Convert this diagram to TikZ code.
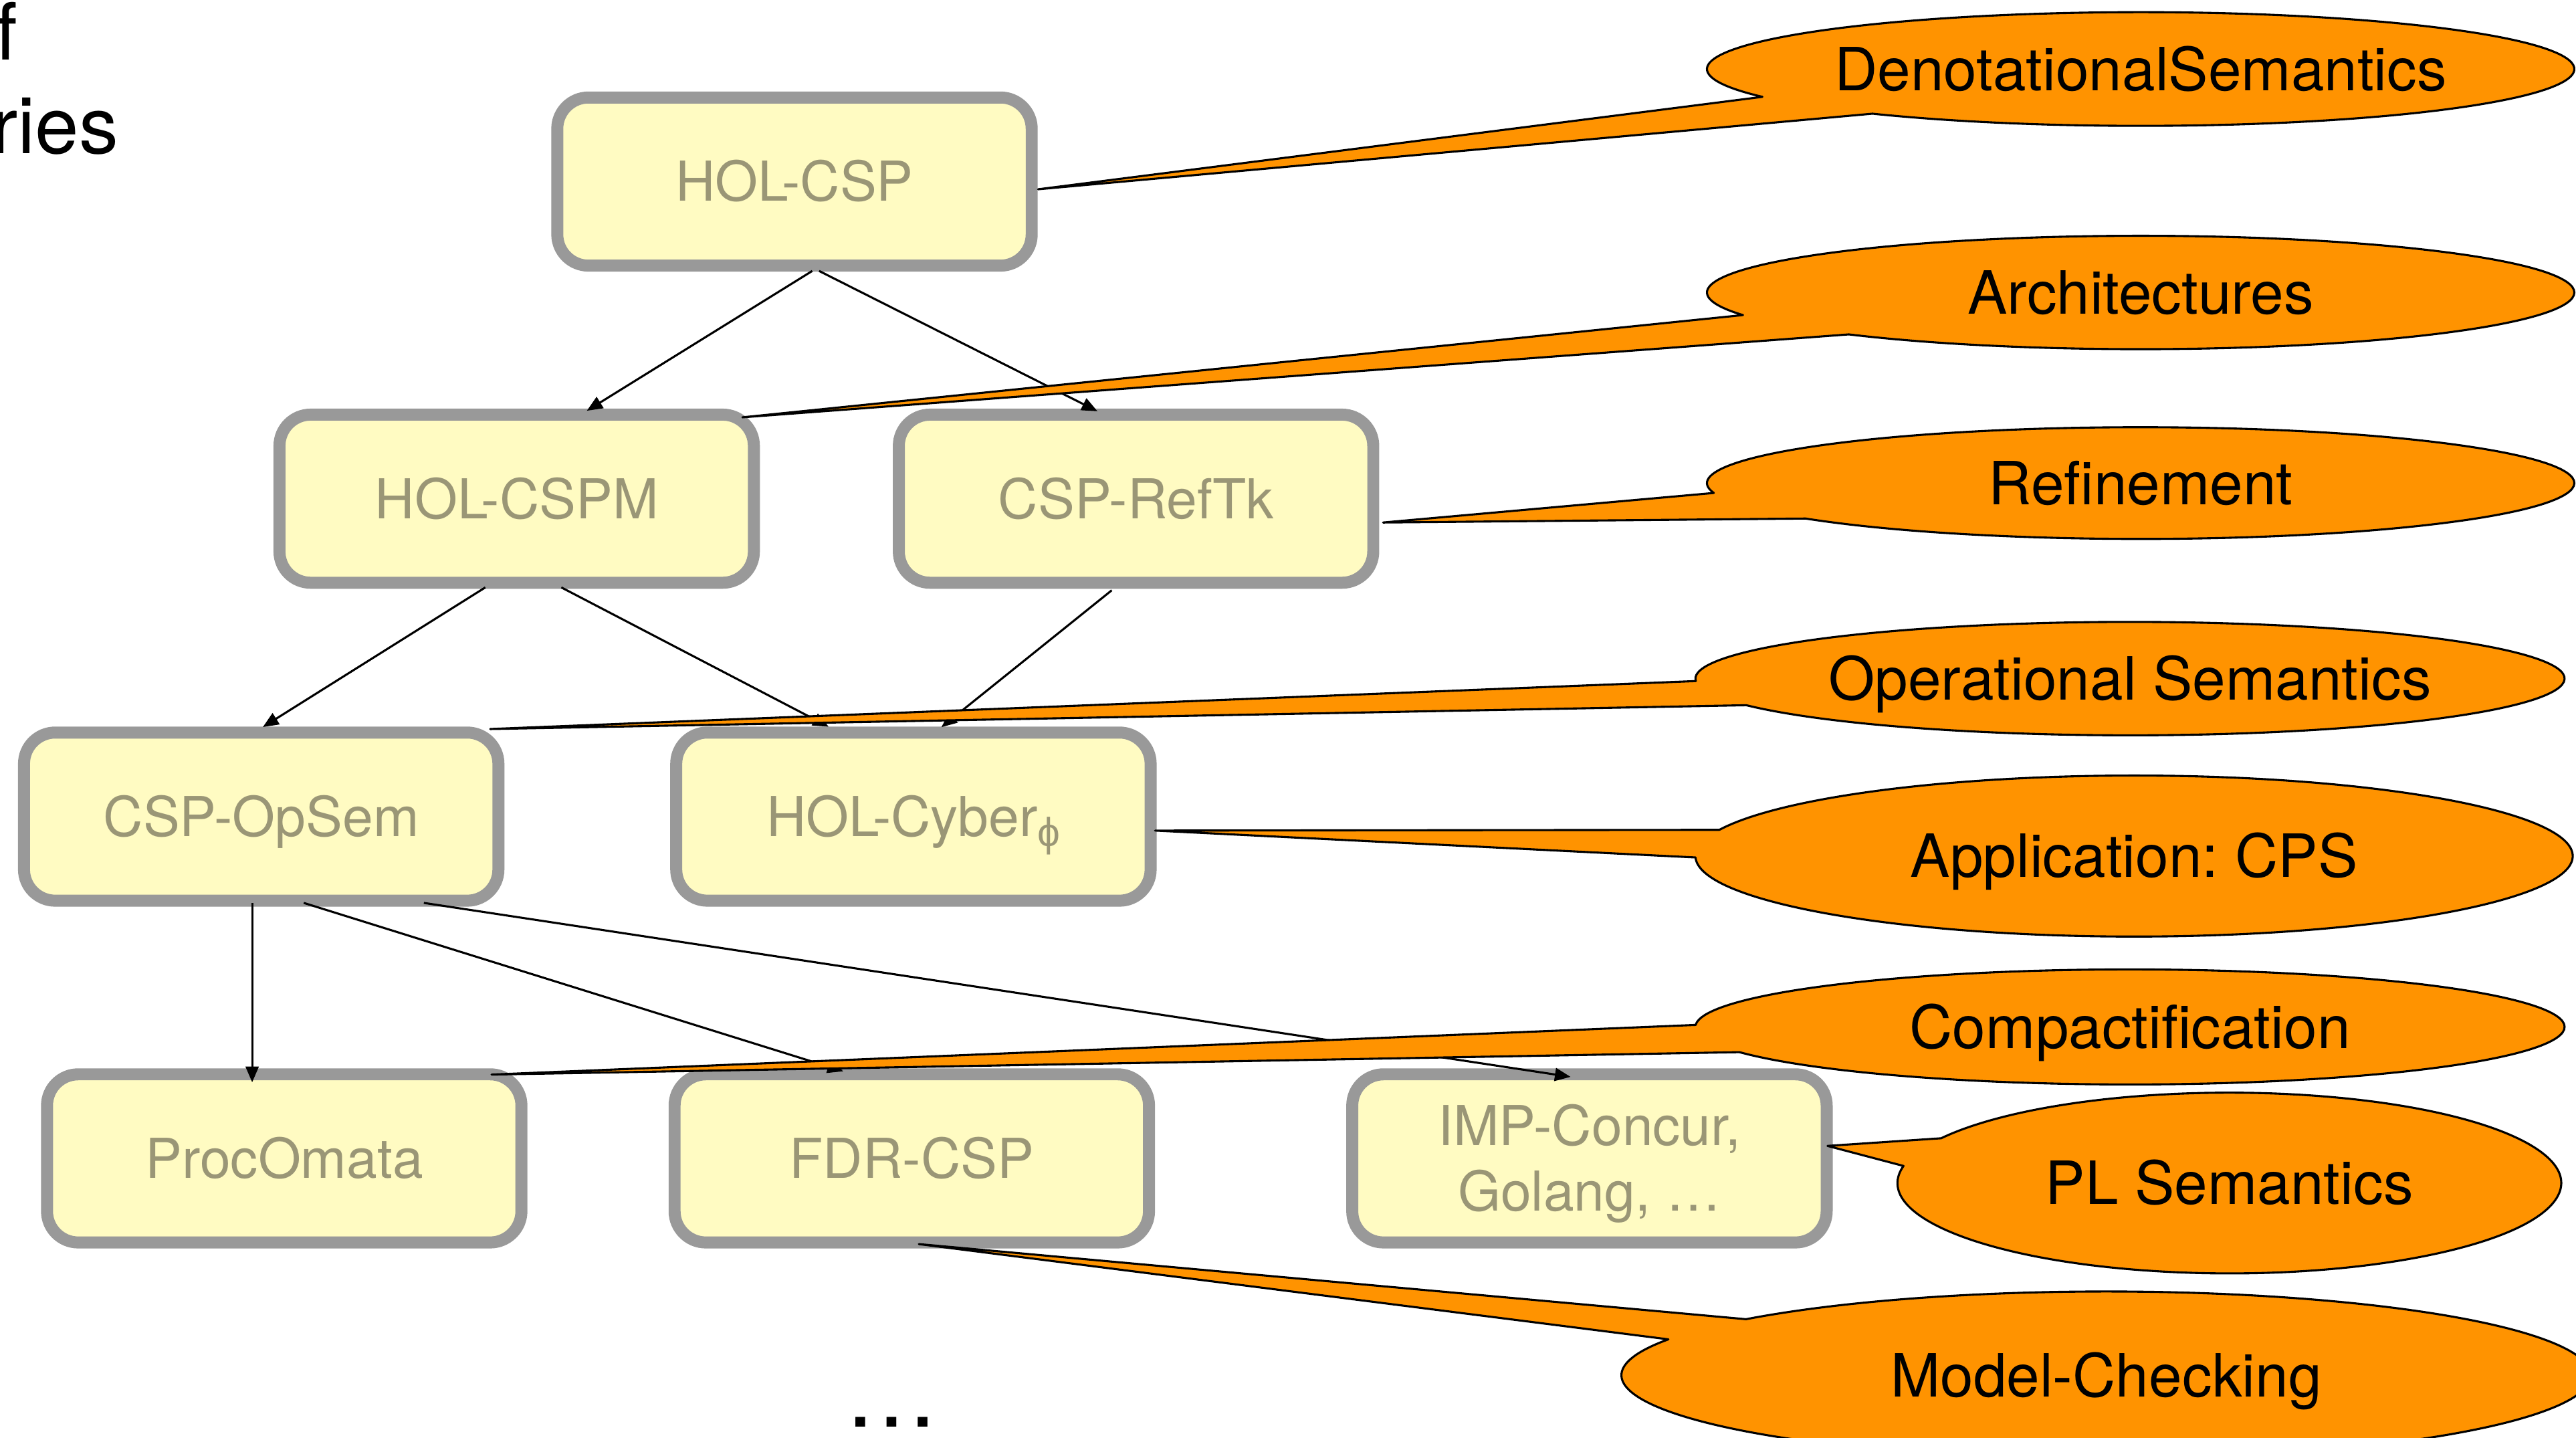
\documentclass[tikz,border=0pt]{standalone}
\usepackage{fontspec}
\setmainfont{TeX Gyre Heros}
\newfontfamily\phifont{Liberation Sans}
\usetikzlibrary{calc,arrows.meta}
\definecolor{boxfill}{RGB}{255,251,194}
\definecolor{boxline}{RGB}{153,153,153}
\definecolor{boxtext}{RGB}{154,150,118}
\definecolor{orng}{RGB}{255,147,0}
\frenchspacing
% #1 name, #2 cx, #3 cy, #4 rx, #5 ry, #6 upper base angle, #7 lower base angle, #8 tip, #9 text
\newcommand{\calloutshape}[9]{%
  \draw[callout] ($(#2,#3)+(#6:#4 and #5)$) -- (#8) -- ($(#2,#3)+(#7:#4 and #5)$)
    arc[start angle=#7, end angle=#6-360, x radius=#4, y radius=#5] -- cycle;
  \node[callouttext] (#1) at (#2,#3) {#9};}
\begin{document}
\begin{tikzpicture}[x=0.025cm,y=-0.025cm,
  box/.style={draw=boxline, line width=5.2pt, fill=boxfill, rounded corners=0.475cm,
    minimum width=7.2175cm, minimum height=2.5575cm, inner sep=0pt, outer sep=0pt,
    text=boxtext, font=\fontsize{23.8}{28.5}\selectfont, text height=17.1pt, text depth=0pt},
  conn/.style={line width=0.9pt, -{Triangle[length=6.8pt,width=5.6pt]}},
  callout/.style={draw=black, fill=orng, line width=0.9pt, line join=round},
  callouttext/.style={font=\fontsize{25.8}{30}\selectfont, text=black, inner sep=0pt,
    text height=18.5pt, text depth=0pt},
  titletext/.style={anchor=base west, inner sep=0pt, font=\fontsize{34.1}{40}\selectfont}
]
\useasboundingbox (0,0) rectangle (1568,875);

% title fragments
\node[titletext] (t1) at (-3,36.6) {f};
\node[titletext] (t2) at (-5.4,93.6) {ries};

% boxes
\node[box] (holcsp)   at (483.6,110.5) {HOL-CSP};
\node[box] (holcspm)  at (314.5,303.5) {HOL-CSPM};
\node[box] (csprefTk) at (691.5,303.5) {CSP-RefTk};
\node[box] (cspopsem) at (159,497)     {CSP-OpSem};
\node[box] (holcyber) at (556,497)     {HOL-Cyber\raisebox{-0.18em}{\fontsize{17.5}{20}\selectfont\phifont ϕ}};
\node[box] (procomata) at (173,705)    {ProcOmata};
\node[box] (fdrcsp)   at (555,705)     {FDR-CSP};
\node[box, text height=45.6pt] (imp) at (967.5,705)
  {\begin{tabular}[b]{@{}c@{}}IMP-Concur,\\Golang, …\end{tabular}};

% connectors
\draw[conn] ($(holcsp.south)+(10.8,3.25)$) -- ($(holcspm.north)+(42.7,-2.35)$);
\draw[conn] ($(holcsp.south)+(15,3.25)$) -- ($(csprefTk.north)+(-23.5,-2.05)$);
\draw[conn] ($(holcspm.south)+(-19.1,2.85)$) -- ($(cspopsem.north)+(1,-3.35)$);
\draw[conn] ($(holcspm.south)+(27.2,2.85)$) -- ($(holcyber.north)+(-51.6,-3.55)$);
\draw[conn] ($(csprefTk.south)+(-14.8,4.6)$) -- ($(holcyber.north)+(17,-3.25)$);
\draw[conn] ($(cspopsem.south)+(-5.5,1.35)$) -- ($(procomata.north)+(-19.5,4.85)$);
\draw[conn] ($(cspopsem.south)+(25.9,1.35)$) -- ($(fdrcsp.north)+(-41.7,-1.85)$);
\draw[conn] ($(cspopsem.south)+(99,1.35)$) -- ($(imp.north)+(-11.5,1.55)$);

% callout tips
\coordinate (tip1) at ($(holcsp.east)+(3.9,4.7)$);
\coordinate (tip2) at ($(holcspm.north east)+(-7,1.65)$);
\coordinate (tip3) at ($(csprefTk.east)+(6,14.5)$);
\coordinate (tip4) at ($(cspopsem.north east)+(-5,-2.15)$);
\coordinate (tip5) at ($(holcyber.east)+(2.7,8.5)$);
\coordinate (tip6) at ($(procomata.north east)+(-18.2,0.15)$);
\coordinate (tip7) at ($(imp.east)+(0.5,-7.6)$);
\coordinate (tip8) at ($(fdrcsp.south)+(4.3,1)$);

% callouts
\calloutshape{c1}{1303}{42}{264}{34.6}{150.7}{128.2}{tip1}{DenotationalSemantics}
\calloutshape{c2}{1303}{178}{264}{34.5}{156.5}{132.3}{tip2}{Architectures}
\calloutshape{c3}{1303}{294}{264}{34}{169.8}{140.6}{tip3}{Refinement}
\calloutshape{c4}{1296.5}{413}{264.5}{34.5}{177.5}{152}{tip4}{Operational Semantics}
\calloutshape{c5}{1299}{521}{267}{49}{199}{179}{tip5}{Application: CPS}
\calloutshape{c6}{1296.5}{625}{264.5}{35}{182}{154}{tip6}{Compactification}
\calloutshape{c7}{1357}{720}{202}{55}{209.7}{190.9}{tip7}{PL Semantics}
\calloutshape{c8}{1282}{837}{295}{51}{222}{205.4}{tip8}{Model-Checking}

% ellipsis
\node[anchor=base, inner sep=0pt, font=\fontsize{40.5}{48}\selectfont] (dots) at (542.6,868.3) {…};
\end{tikzpicture}
\end{document}
